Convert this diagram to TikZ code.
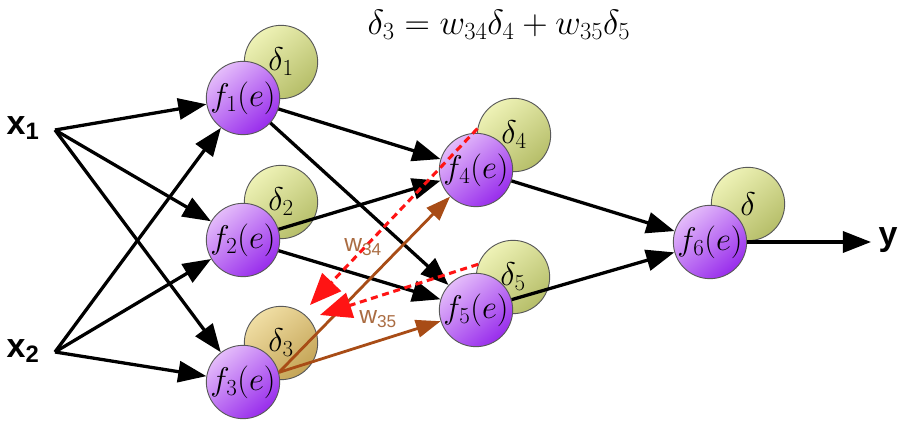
\RequirePackage{fix-cm}
\documentclass[tikz,border=0pt]{standalone}
\usepackage{amsmath}
\usepackage{fontspec}
\newfontfamily\arialfont{Liberation Sans}
\usepackage{tikz}
\usetikzlibrary{arrows.meta}
\definecolor{fLight}{RGB}{228,188,250}
\definecolor{fDark}{RGB}{152,44,236}
\definecolor{dLight}{RGB}{238,242,182}
\definecolor{dDark}{RGB}{182,190,105}
\definecolor{dOrLight}{RGB}{240,222,164}
\definecolor{dOrDark}{RGB}{196,164,86}
\definecolor{wBrown}{RGB}{168,76,22}
\definecolor{wLabel}{RGB}{170,108,66}
\definecolor{bpRed}{RGB}{255,20,20}
\tikzstyle{neuron}=[circle,draw=black!65,line width=0.8pt,minimum size=2.2cm,inner sep=-10pt,top color=fLight,bottom color=fDark,shading angle=40,font=\fontsize{28}{30}\selectfont]
\tikzstyle{delta}=[circle,draw=black!65,line width=0.8pt,minimum size=2.2cm,inner sep=-10pt,top color=dLight,bottom color=dDark,shading angle=40,font=\fontsize{28}{30}\selectfont]
\tikzstyle{fwd}=[line width=2.8pt,-{Triangle[length=24pt,width=18pt]}]
\tikzstyle{wgt}=[line width=2.4pt,wBrown,-{Triangle[length=21pt,width=15pt]}]
\tikzstyle{back}=[line width=2.6pt,bpRed,dash pattern=on 6pt off 4pt,-{Triangle[length=27pt,width=22pt]}]
\tikzstyle{wlab}=[wLabel,font=\arialfont\fontsize{21}{23}\selectfont]

\begin{document}
\begin{tikzpicture}[x=0.03cm,y=-0.03cm]
	\useasboundingbox (0,0) rectangle (906,429);
	
	\node (eq) at (499,25) {\fontsize{30}{33}\selectfont $\delta_3 = w_{34}\delta_4 + w_{35}\delta_5$};
	
	% inputs and output
	\node[font=\arialfont\bfseries\fontsize{29}{31}\selectfont] (x1) at (23,128) {x\textsubscript{1}};
	\node[font=\arialfont\bfseries\fontsize{29}{31}\selectfont] (x2) at (23,351) {x\textsubscript{2}};
	\node[font=\arialfont\bfseries\fontsize{29}{31}\selectfont] (yl) at (888,240) {y};
	\coordinate (s1) at (55,130);
	\coordinate (s2) at (55,352);
	\coordinate (yout) at (871,242);
	
	% error terms behind the neurons
	\node [delta] (d1) at (281,62) {$\delta_1$};
	\node [delta] (d2) at (281,202) {$\delta_2$};
	\node [delta, top color=dOrLight, bottom color=dOrDark, shading angle=40] (d3) at (281,343) {$\delta_3$};
	\node [delta] (d4) at (514,135) {$\delta_4$};
	\node [delta] (d5) at (513,277) {$\delta_5$};
	\node [delta] (d6) at (748,204) {$\delta$};
	
	\node [neuron] (f1) at (243,98) {$f_1(e)$};
	\node [neuron] (f2) at (243,240) {$f_2(e)$};
	\node [neuron] (f3) at (243,382) {$f_3(e)$};
	\node [neuron] (f4) at (476,170) {$f_4(e)$};
	\node [neuron] (f5) at (476,310) {$f_5(e)$};
	\node [neuron] (f6) at (710,242) {$f_6(e)$};
	
	\draw[fwd] (s1) -- (f1);
	\draw[fwd] (s1) -- (f2);
	\draw[fwd] (s1) -- (f3);
	\draw[fwd] (s2) -- (f1);
	\draw[fwd] (s2) -- (f2);
	\draw[fwd] (s2) -- (f3);
	
	\draw[fwd] (f1) -- (f4);
	\draw[fwd] (f1) -- (f5);
	\draw[fwd] (f2) -- (f4);
	\draw[fwd] (f2) -- (f5);
	\draw[wgt] (f3.15) -- (f4);
	\draw[wgt] (f3.15) -- (f5);
	
	\draw[fwd] (f4) -- (f6);
	\draw[fwd] (f5) -- (f6);
	\draw[fwd] (f6) -- (yout);
	
	% back propagation of the error
	\coordinate (t4) at (310,305);
	\coordinate (t5) at (320,315);
	\draw[back] (d4.170) -- (t4);
	\draw[back] (d5.160) -- (t5);
	
	\node [wlab] (w34) at (363,247) {w\textsubscript{34}};
	\node [wlab] (w35) at (378,319) {w\textsubscript{35}};
\end{tikzpicture}
\end{document}
